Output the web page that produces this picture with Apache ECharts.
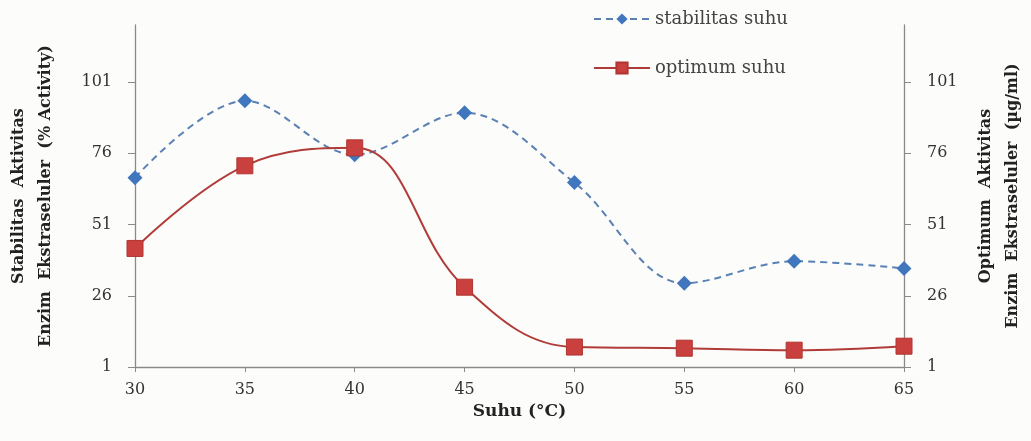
<!DOCTYPE html>
<html>
<head>
<meta charset="utf-8">
<script src="https://cdn.jsdelivr.net/npm/echarts@6/dist/echarts.min.js"></script>
<style>html,body{margin:0;padding:0;background:#fcfcfa;}#c{width:1031px;height:441px;}</style>
</head>
<body>
<div id="c"></div>
<script>
var categories = ['30', '35', '40', '45', '50', '55', '60', '65'];
var stabilitasSuhu = [67.4, 94.4, 75.5, 90.2, 65.7, 30.4, 38.1, 35.6];
var optimumSuhu = [42.6, 71.6, 77.9, 29.0, 8.0, 7.6, 6.9, 8.3];
var yTicks = [1, 26, 51, 76, 101];

var chart = echarts.init(document.getElementById('c'));
var font = '"DejaVu Serif", "Liberation Serif", serif';
var axisCommon = {
  type: 'value', min: 1, max: 121,
  axisLine: { show: true, lineStyle: { color: '#8a8a8a', width: 1.3 } },
  axisTick: { show: true, length: 7, customValues: yTicks, lineStyle: { color: '#8a8a8a' } },
  axisLabel: { customValues: yTicks, color: '#333', fontFamily: font, fontSize: 16, margin: 23 },
  splitLine: { show: false },
  nameLocation: 'middle', nameRotate: 90,
  nameTextStyle: { fontFamily: font, fontSize: 16, fontWeight: 'bold', color: '#222', lineHeight: 27 }
};
chart.setOption({
  backgroundColor: '#fcfcfa',
  animation: false,
  grid: { left: 135, right: 127, top: 25, bottom: 74, outerBoundsMode: 'none', containLabel: false },
  legend: {
    orient: 'vertical', left: 588, top: 5, itemGap: 31, itemWidth: 56, itemHeight: 14,
    textStyle: { fontFamily: font, fontSize: 18, color: '#444' },
    data: ['stabilitas suhu', 'optimum suhu']
  },
  xAxis: {
    type: 'category', data: categories, boundaryGap: false,
    axisLine: { lineStyle: { color: '#8a8a8a', width: 1.3 } },
    axisTick: { show: true, length: 5, alignWithLabel: true, lineStyle: { color: '#8a8a8a' } },
    axisLabel: { color: '#333', fontFamily: font, fontSize: 16, margin: 15 },
    name: 'Suhu (\u00B0C)', nameLocation: 'middle', nameGap: 36,
    nameTextStyle: { fontFamily: font, fontSize: 17, fontWeight: 'bold', color: '#222' }
  },
  yAxis: [
    Object.assign({}, axisCommon, { position: 'left', nameGap: 76,
      name: 'Stabilitas  Aktivitas\nEnzim  Ekstraseluler  (% Activity)' }),
    Object.assign({}, axisCommon, { position: 'right', nameGap: 68,
      name: 'Optimum  Aktivitas\nEnzim  Ekstraseluler  (\u00B5g/ml)' })
  ],
  series: [
    {
      name: 'stabilitas suhu', type: 'line', yAxisIndex: 0, data: stabilitasSuhu,
      smooth: 0.35, symbol: 'diamond', symbolSize: 15,
      lineStyle: { color: '#5a80b4', width: 2, type: [7, 5] },
      itemStyle: { color: '#3f76bd' }
    },
    {
      name: 'optimum suhu', type: 'line', yAxisIndex: 1, data: optimumSuhu,
      smooth: 0.4, symbol: 'rect', symbolSize: 16,
      lineStyle: { color: '#b03c3a', width: 2 },
      itemStyle: { color: '#c9403e', borderColor: '#b03532', borderWidth: 1 }
    }
  ]
});
</script>
</body>
</html>
